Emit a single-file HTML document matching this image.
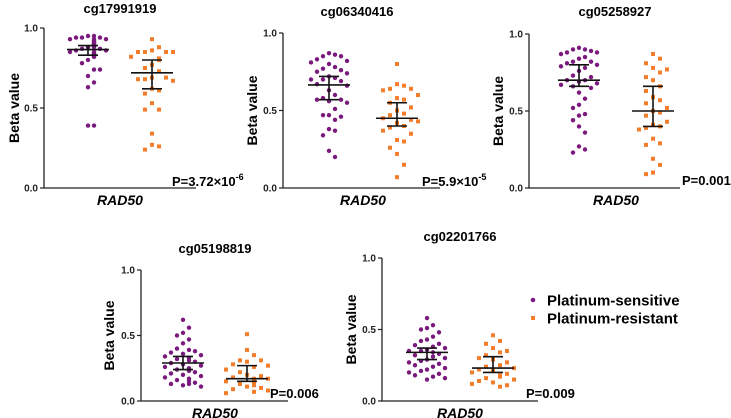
<!DOCTYPE html>
<html><head><meta charset="utf-8"><style>
body{margin:0;background:#fff;}
svg{display:block;font-family:"Liberation Sans",Arial,sans-serif;}
</style></head><body>
<svg id="c" width="731" height="418" viewBox="0 0 731 418"></svg>
<script>
const panelTitles=["cg17991919","cg06340416","cg05258927","cg05198819","cg02201766"];
const pLabels=["P=3.72×10","P=5.9×10","P=0.001","P=0.006","P=0.009"];
const pExps=["-6","-5","","",""];
const yTicks=[0,0.5,1.0];
const yTickLabels=["0.0","0.5","1.0"];
const sensitive=[
[0.95,0.95,0.94,0.94,0.94,0.93,0.93,0.93,0.92,0.92,0.91,0.91,0.9,0.9,0.9,0.89,0.89,0.88,0.88,0.87,0.87,0.86,0.86,0.85,0.85,0.84,0.84,0.83,0.82,0.82,0.80,0.78,0.74,0.74,0.70,0.66,0.63,0.39,0.39],
[0.87,0.86,0.85,0.85,0.83,0.82,0.81,0.80,0.78,0.77,0.76,0.75,0.74,0.72,0.71,0.70,0.70,0.69,0.67,0.66,0.63,0.60,0.58,0.57,0.57,0.56,0.55,0.51,0.47,0.47,0.46,0.44,0.38,0.37,0.34,0.24,0.20],
[0.91,0.90,0.90,0.89,0.88,0.88,0.87,0.85,0.84,0.82,0.82,0.81,0.80,0.79,0.78,0.76,0.73,0.72,0.70,0.70,0.69,0.68,0.67,0.66,0.65,0.62,0.58,0.54,0.52,0.48,0.47,0.44,0.40,0.36,0.27,0.25,0.23],
[0.62,0.56,0.52,0.50,0.47,0.44,0.40,0.39,0.38,0.37,0.36,0.35,0.34,0.33,0.32,0.31,0.30,0.29,0.28,0.27,0.26,0.25,0.24,0.23,0.22,0.21,0.20,0.19,0.18,0.17,0.16,0.15,0.14,0.13,0.13,0.12,0.11],
[0.58,0.53,0.51,0.50,0.48,0.45,0.43,0.42,0.40,0.39,0.38,0.37,0.36,0.35,0.35,0.34,0.33,0.32,0.31,0.30,0.29,0.28,0.27,0.26,0.25,0.24,0.23,0.22,0.21,0.20,0.19,0.18,0.17,0.16,0.15]];
const resistant=[
[0.93,0.88,0.86,0.85,0.85,0.85,0.85,0.82,0.81,0.80,0.80,0.77,0.75,0.73,0.69,0.69,0.68,0.68,0.67,0.62,0.61,0.59,0.53,0.49,0.49,0.34,0.27,0.26,0.24],
[0.80,0.67,0.66,0.64,0.64,0.63,0.60,0.58,0.57,0.55,0.52,0.50,0.48,0.47,0.45,0.44,0.43,0.42,0.40,0.39,0.37,0.35,0.31,0.30,0.26,0.22,0.15,0.07],
[0.87,0.84,0.81,0.78,0.77,0.75,0.72,0.70,0.66,0.63,0.59,0.57,0.55,0.52,0.50,0.49,0.47,0.43,0.41,0.40,0.39,0.38,0.32,0.29,0.28,0.19,0.15,0.10,0.09],
[0.51,0.39,0.35,0.31,0.31,0.30,0.28,0.27,0.26,0.24,0.22,0.20,0.19,0.18,0.17,0.17,0.16,0.15,0.15,0.14,0.13,0.12,0.11,0.10,0.09,0.08,0.07,0.06],
[0.46,0.42,0.40,0.37,0.35,0.34,0.32,0.30,0.29,0.27,0.25,0.24,0.23,0.22,0.21,0.20,0.19,0.18,0.17,0.16,0.15,0.14,0.13,0.12,0.11,0.10]];
const sensStats=[[0.865,0.83,0.89],[0.665,0.57,0.72],[0.70,0.66,0.80],[0.29,0.24,0.34],[0.34,0.29,0.37]];
const resStats=[[0.72,0.62,0.80],[0.45,0.40,0.55],[0.50,0.40,0.66],[0.17,0.15,0.27],[0.23,0.20,0.31]];

const layout=[
 {ax:44,y1:28,y0:188,xe:196,cs:88,cr:152,tx:120,ty:13,bx:14,px:172,py:186},
 {ax:283,y1:33,y0:188,xe:440,cs:329,cr:397,tx:357,ty:16,bx:252,px:422,py:186},
 {ax:529,y1:34,y0:188,xe:680,cs:579,cr:653,tx:615,ty:16,bx:498,px:682,py:185},
 {ax:141,y1:270,y0:401,xe:288,cs:183,cr:247,tx:215,ty:253,bx:109,px:270,py:398},
 {ax:382,y1:258,y0:401,xe:538,cs:427,cr:493,tx:460,ty:241,bx:351,px:526,py:398}];
const PUR="#7a1a7e",ORA="#f27d2a";
const svg=document.getElementById('c');
const NS="http://www.w3.org/2000/svg";
function mk(t,a,p){const e=document.createElementNS(NS,t);for(const k in a)e.setAttribute(k,a[k]);(p||svg).appendChild(e);return e;}
function swarm(vals,yf,hstep,vstep,maxk){
  const placed=[];const out=[];
  vals.forEach(v=>{const y=yf(v);let k=0,x=0;
    while(true){const off=(k%2?1:-1)*Math.ceil(k/2)*hstep;
      if(!placed.some(p=>Math.abs(p[0]-off)<hstep-0.1&&Math.abs(p[1]-y)<vstep)){x=off;break;}k++;if(k>maxk){x=(k%2?1:-1)*hstep;break;}}
    placed.push([x,y]);out.push([x,y]);});
  return out;}
layout.forEach((L,i)=>{
  const g=mk('g',{});
  
  
  const yf=v=>L.y0-(L.y0-L.y1)*v;
  const ax=mk('path',{d:`M${L.ax},${L.y1}V${L.y0}H${L.xe}`,stroke:'#222',fill:'none','stroke-width':1.3},g);
  
  yTicks.forEach((t,j)=>{
    mk('line',{x1:L.ax-4,x2:L.ax,y1:yf(t),y2:yf(t),stroke:'#222','stroke-width':1.2},g);
    const tl=mk('text',{x:L.ax-6,y:yf(t)+3.5,'font-size':10,'font-weight':'bold','text-anchor':'end',fill:'#222'},g);
    tl.textContent=yTickLabels[j];
    
  });
  const tt=mk('text',{x:L.tx,y:L.ty,'font-size':13,'font-weight':'bold','text-anchor':'middle'},g);
  tt.textContent=panelTitles[i];
  const bm=(L.y0+L.y1)/2;
  const bl=mk('text',{x:L.bx,y:bm,'font-size':14,'font-weight':'bold','text-anchor':'middle',transform:`rotate(-90 ${L.bx} ${bm})`,dy:5},g);
  bl.textContent='Beta value';
  const xl=mk('text',{x:(L.cs+L.cr)/2,y:L.y0+17,'font-size':14,'font-weight':'bold','font-style':'italic','text-anchor':'middle'},g);
  xl.textContent='RAD50';
  const pt=mk('text',{x:L.px,y:L.py,'font-size':13,'font-weight':'bold'},g);
  pt.textContent=pLabels[i];
  if(pExps[i]){const ts=mk('tspan',{'font-size':9,dy:-6},pt);ts.textContent=pExps[i];}
  
  swarm(sensitive[i],yf,6,10,6).forEach(p=>{
    const c=mk('circle',{cx:L.cs+p[0],cy:p[1],r:2.2,fill:PUR},g);
    });
  swarm(resistant[i],yf,7,11,6).forEach(p=>{
    const r=mk('rect',{x:L.cr+p[0]-2,y:p[1]-2,width:4,height:4,fill:ORA},g);
    });
  [[L.cs,sensStats[i]],[L.cr,resStats[i]]].forEach(([cx,s])=>{
    const e=mk('path',{d:`M${cx-21},${yf(s[0])}H${cx+21}M${cx-10},${yf(s[1])}H${cx+10}M${cx-10},${yf(s[2])}H${cx+10}M${cx},${yf(s[1])}V${yf(s[2])}`,stroke:'#111','stroke-width':1.6,fill:'none'},g);
    });
});
const lg=mk('g',{});

mk('circle',{cx:533,cy:300,r:2.3,fill:PUR},lg);
const t1=mk('text',{x:547,y:305.5,'font-size':15,'font-weight':'bold'},lg);t1.textContent='Platinum-sensitive';

mk('rect',{x:531,y:316,width:4,height:4,fill:ORA},lg);
const t2=mk('text',{x:547,y:323.5,'font-size':15,'font-weight':'bold'},lg);t2.textContent='Platinum-resistant';

</script>
</body></html>
